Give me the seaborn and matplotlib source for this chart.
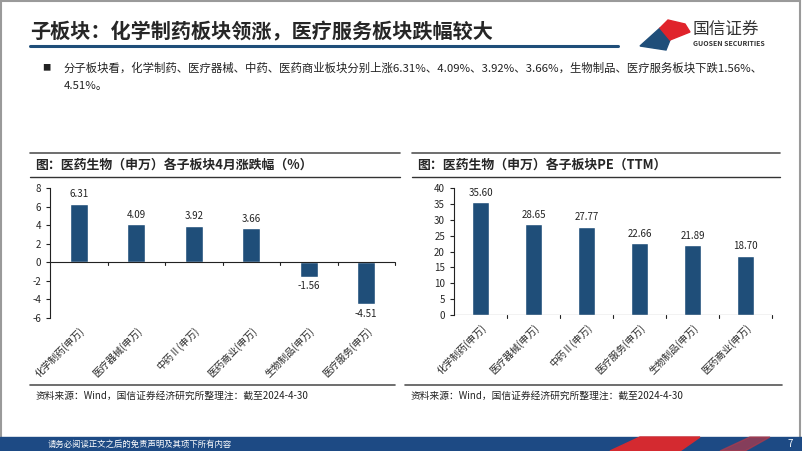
import matplotlib
matplotlib.use("Agg")
import matplotlib.pyplot as plt
import matplotlib.patches as mpatches
import seaborn as sns
import pandas as pd

# --- dados ---
categorias_pct = ["化学制药(申万)", "医疗器械(申万)", "中药Ⅱ(申万)", "医药商业(申万)",
                  "生物制品(申万)", "医疗服务(申万)"]
valores_pct = [6.31, 4.09, 3.92, 3.66, -1.56, -4.51]

categorias_pe = ["化学制药(申万)", "医疗器械(申万)", "中药Ⅱ(申万)", "医疗服务(申万)",
                 "生物制品(申万)", "医药商业(申万)"]
valores_pe = [35.60, 28.65, 27.77, 22.66, 21.89, 18.70]

titulo = "子板块：化学制药板块领涨，医疗服务板块跌幅较大"
texto_bullet = ["分子板块看，化学制药、医疗器械、中药、医药商业板块分别上涨6.31%、4.09%、3.92%、3.66%，生物制品、医疗服务板块下跌1.56%、",
                "4.51%。"]
titulo_esq = "图：医药生物（申万）各子板块4月涨跌幅（%）"
titulo_dir = "图：医药生物（申万）各子板块PE（TTM）"
fonte = "资料来源：Wind，国信证券经济研究所整理注：截至2024-4-30"
rodape = "请务必阅读正文之后的免责声明及其项下所有内容"

AZUL = "#1f4e79"

sns.set_style("white")
plt.rcParams["font.family"] = ["Noto Sans CJK SC", "DejaVu Sans"]
plt.rcParams["axes.unicode_minus"] = False

fig = plt.figure(figsize=(8.02, 4.51), dpi=100)
W, H = 802, 451


def fx(px):
    return px / W


def fy(py):
    return 1 - py / H


# moldura do slide
fig.add_artist(mpatches.Rectangle((0.001, 0.002), 0.997, 0.995, transform=fig.transFigure,
                                  fill=False, edgecolor="#9a9a9a", lw=1.5))

# titulo e linha
fig.text(fx(30), fy(32), titulo, fontsize=14.5, fontweight="bold", va="center", ha="left")
fig.add_artist(plt.Line2D([fx(30), fx(618)], [fy(46), fy(46)], color=AZUL, lw=2.2,
                          transform=fig.transFigure))

# logo
fig.add_artist(mpatches.Polygon([[fx(640), fy(46)], [fx(660), fy(28)], [fx(670), fy(40)],
                                 [fx(666), fy(50)]], closed=True, color=AZUL,
                                transform=fig.transFigure))
fig.add_artist(mpatches.Polygon([[fx(660), fy(28)], [fx(668), fy(20)], [fx(685), fy(24)],
                                 [fx(690), fy(32)], [fx(675), fy(38)], [fx(670), fy(40)]],
                                closed=True, color="#e0232b", transform=fig.transFigure))
fig.text(fx(693), fy(29), "国信证券", fontsize=12, color="#333333", va="center", ha="left")
fig.text(fx(693), fy(44), "GUOSEN SECURITIES", fontsize=5, color="#333333", va="center",
         ha="left", fontweight="bold")

# bullet
fig.text(fx(42), fy(68), "■", fontsize=6, va="center", ha="left", color="#222222")
fig.text(fx(64), fy(68), texto_bullet[0], fontsize=8.2, va="center", ha="left", color="#222222")
fig.text(fx(64), fy(86), texto_bullet[1], fontsize=8.2, va="center", ha="left", color="#222222")

# titulos dos graficos
for x0, x1, t in [(30, 400, titulo_esq), (412, 780, titulo_dir)]:
    fig.add_artist(plt.Line2D([fx(x0), fx(x1)], [fy(153), fy(153)], color="#555555", lw=1.2,
                              transform=fig.transFigure))
    fig.add_artist(plt.Line2D([fx(x0), fx(x1)], [fy(177), fy(177)], color="#333333", lw=1.0,
                              transform=fig.transFigure))
    fig.text(fx(x0 + 5), fy(165), t, fontsize=9.3, fontweight="bold", va="center", ha="left")

# fontes
for x0, x1 in [(30, 395), (405, 782)]:
    fig.add_artist(plt.Line2D([fx(x0), fx(x1)], [fy(385), fy(385)], color="#555555", lw=1.2,
                              transform=fig.transFigure))
    fig.text(fx(x0 + 6), fy(396), fonte, fontsize=7, va="center", ha="left", color="#222222")

# rodape
fig.add_artist(mpatches.Rectangle((0, 0), 1, fy(437), transform=fig.transFigure,
                                  color="#1d4a84"))
fig.add_artist(mpatches.Polygon([[fx(610), 0], [fx(640), fy(437)], [fx(700), fy(437)],
                                 [fx(680), 0]], closed=True, color="#d42a30",
                                transform=fig.transFigure))
fig.add_artist(mpatches.Polygon([[fx(720), 0], [fx(750), fy(437)], [fx(770), fy(437)],
                                 [fx(745), 0]], closed=True, color="#b23a4a", alpha=0.7,
                                transform=fig.transFigure))
fig.text(fx(48), fy(444), rodape, fontsize=6, color="white", va="center", ha="left")
fig.text(fx(788), fy(444), "7", fontsize=7, color="white", va="center", ha="left")


def desenha_barras(ax, cats, vals, ylim, yticks, fmt):
    df = pd.DataFrame({"cat": cats, "val": vals})
    sns.barplot(data=df, x="cat", y="val", ax=ax, color=AZUL, width=0.31, saturation=1)
    ax.set_xlabel("")
    ax.set_ylabel("")
    ax.set_ylim(*ylim)
    ax.set_yticks(yticks)
    ax.set_xlim(-0.5, len(cats) - 0.5)
    for s in ["top", "right", "bottom"]:
        ax.spines[s].set_visible(False)
    ax.spines["left"].set_color("#222222")
    ax.spines["left"].set_linewidth(0.8)
    ax.axhline(0, color="#222222", lw=0.8)
    ax.tick_params(axis="y", labelsize=7, length=3, direction="out", left=True, color="#222222")
    ax.tick_params(axis="x", labelsize=7, length=0, pad=5)
    ax.set_xticks(range(len(cats)))
    ax.set_xticklabels(cats, rotation=45, ha="right", rotation_mode="anchor")
    rng = ylim[1] - ylim[0]
    for i, v in enumerate(vals):
        off = rng * 0.035
        ax.text(i, v + off if v >= 0 else v - off, fmt.format(v), ha="center",
                va="bottom" if v >= 0 else "top", fontsize=7, color="#222222")
    # marcas entre categorias no eixo zero
    for b in [i + 0.5 for i in range(len(cats))]:
        ax.plot([b, b], [0, -rng * 0.02], color="#222222", lw=0.8, clip_on=False)
    ax.grid(False)


ax1 = fig.add_axes([fx(50), fy(318), fx(395) - fx(50), fy(188) - fy(318)])
desenha_barras(ax1, categorias_pct, valores_pct, (-6, 8), range(-6, 9, 2), "{:.2f}")

ax2 = fig.add_axes([fx(454), fy(315), fx(772) - fx(454), fy(188) - fy(315)])
desenha_barras(ax2, categorias_pe, valores_pe, (0, 40), range(0, 41, 5), "{:.2f}")

fig.savefig("out.png", dpi=100)
